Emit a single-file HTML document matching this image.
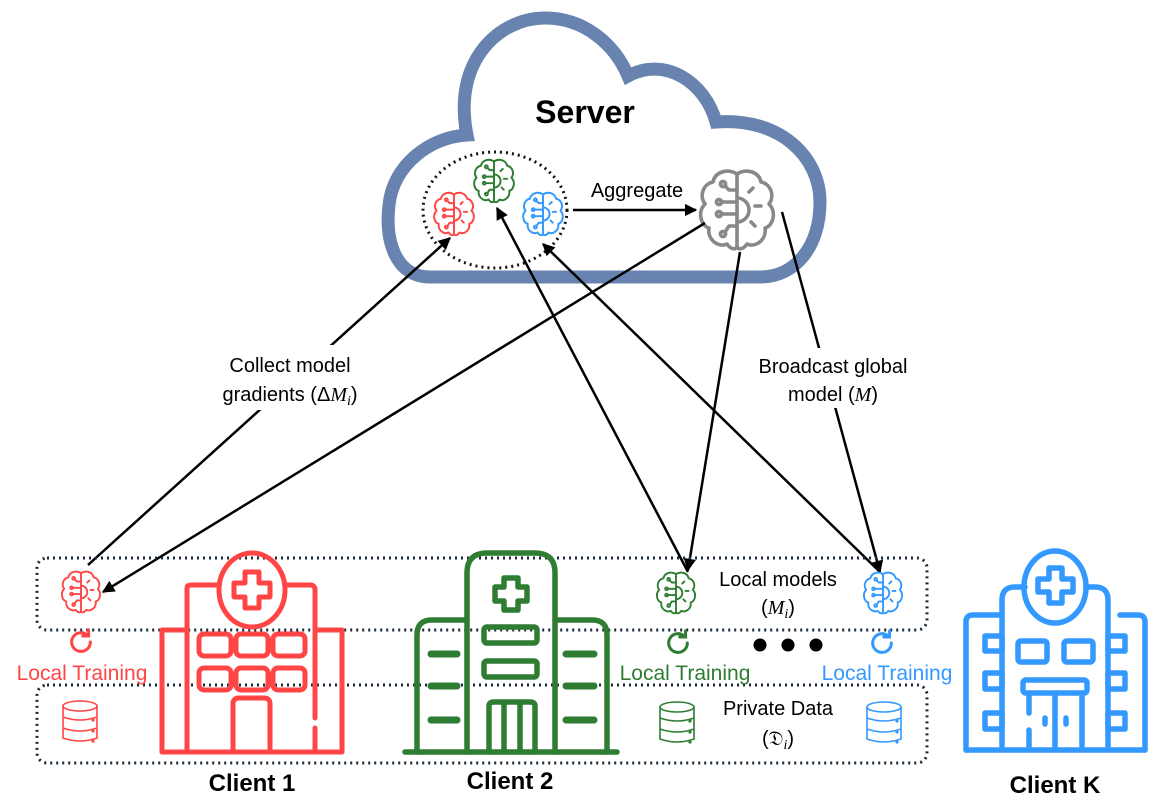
<!DOCTYPE html>
<html><head><meta charset="utf-8"><style>
html,body{margin:0;padding:0;background:#fff}
svg{display:block}
text{font-family:"Liberation Sans",sans-serif}
</style></head><body>
<svg width="1157" height="798" viewBox="0 0 1157 798" xmlns="http://www.w3.org/2000/svg">
<defs>
<symbol id="brain" viewBox="0 0 40 44">
<g fill="none" stroke="currentColor" stroke-width="1.8" stroke-linecap="round" stroke-linejoin="round">
<path d="M20 4 C15 1 9 3 8 8 C3 9 1 15 4 19 C0 23 2 30 6 31 C5 37 11 41 15 39 C17 42 20 42 20 40"/>
<path d="M20 4 C25 1 31 3 32 8 C37 9 39 15 36 19 C40 23 38 30 34 31 C35 37 29 41 25 39 C23 42 20 42 20 40"/>
<path d="M20 4 V40"/>
<path d="M20 12 H16 L14 10"/><circle cx="13" cy="9" r="1.3"/>
<path d="M20 18 H12"/><circle cx="11" cy="18" r="1.3"/>
<path d="M20 24 H12"/><circle cx="11" cy="24" r="1.3"/>
<path d="M20 30 H16 L14 33"/><circle cx="13" cy="34" r="1.3"/>
<path d="M20 16 A6 6 0 0 1 20 28"/>
<path d="M26 13 l2 -2 M29 20 h3 M27 28 l2 2"/>
</g>
</symbol>
<symbol id="db" viewBox="0 0 40 48">
<g fill="none" stroke="currentColor" stroke-width="1.6">
<ellipse cx="20" cy="8" rx="17" ry="5"/>
<path d="M3 8 V40 Q20 46 37 40 V8"/>
<path d="M3 19 Q20 25 37 19 M3 30 Q20 36 37 30"/>
<circle cx="33" cy="22" r="0.8" fill="currentColor"/><circle cx="33" cy="33" r="0.8" fill="currentColor"/><circle cx="33" cy="43" r="0.8" fill="currentColor"/>
</g>
</symbol>
<symbol id="refresh" viewBox="0 0 24 24">
<g fill="none" stroke="currentColor" stroke-width="2.6" stroke-linecap="round">
<path d="M20 12 A8 8 0 1 1 17 5.8"/>
<path d="M18.5 1.5 V6.8 H13.5"/>
</g>
</symbol>
<marker id="ah" viewBox="0 0 10 10" refX="9" refY="5" markerWidth="5" markerHeight="5" orient="auto-start-reverse">
<path d="M0 0 L10 5 L0 10 z" fill="#000"/>
</marker>
</defs>

<path d="M430 277 C395 277 385 240 389 205 C393 165 430 137 467 135 C452 60 500 18 545 18 C585 18 615 45 628 76 C665 56 705 82 716 122 C780 117 820 157 820 202 C820 247 795 277 760 277 Z" fill="#fff" stroke="#6983b0" stroke-width="13"/>
<text x="585" y="123" font-size="32" font-weight="bold" text-anchor="middle">Server</text>

<ellipse cx="495" cy="210" rx="72" ry="58" fill="none" stroke="#111" stroke-width="3" stroke-dasharray="2 4"/>
<use href="#brain" x="432" y="190" width="44" height="48" color="#ff4545"/>
<use href="#brain" x="472" y="157" width="44" height="48" color="#2e7d32"/>
<use href="#brain" x="521" y="190" width="44" height="48" color="#3399ff"/>
<use href="#brain" x="696" y="166" width="82" height="88" color="#888"/>

<text x="637" y="197" font-size="20" text-anchor="middle">Aggregate</text>
<line x1="573" y1="210" x2="696" y2="210" stroke="#000" stroke-width="2.5" marker-end="url(#ah)"/>

<g stroke="#000" stroke-width="2.5" fill="none">
<line x1="88" y1="565" x2="450" y2="238" marker-end="url(#ah)"/>
<line x1="705" y1="223" x2="103" y2="592" marker-end="url(#ah)"/>
<line x1="688" y1="572" x2="497" y2="208" marker-end="url(#ah)"/>
<line x1="880" y1="572" x2="543" y2="244" marker-end="url(#ah)"/>
<line x1="740" y1="252" x2="688" y2="570" marker-end="url(#ah)"/>
<line x1="782" y1="212" x2="880" y2="572" marker-end="url(#ah)"/>
</g>
<rect x="215" y="345" width="150" height="65" fill="#fff"/>
<text x="290" y="372" font-size="20" text-anchor="middle">Collect model</text>
<text x="290" y="401" font-size="20" text-anchor="middle">gradients (Δ<tspan font-family="Liberation Serif" font-style="italic">M</tspan><tspan font-family="Liberation Serif" font-style="italic" font-size="14" dy="4">i</tspan><tspan dy="-4">)</tspan></text>
<rect x="758" y="348" width="150" height="60" fill="#fff"/>
<text x="833" y="373" font-size="20" text-anchor="middle">Broadcast global</text>
<text x="833" y="401" font-size="20" text-anchor="middle">model (<tspan font-family="Liberation Serif" font-style="italic">M</tspan>)</text>

<rect x="37" y="558" width="890" height="72" rx="10" fill="none" stroke="#1a2a3a" stroke-width="3" stroke-dasharray="2 4"/>
<rect x="37" y="685" width="890" height="78" rx="10" fill="none" stroke="#1a2a3a" stroke-width="3" stroke-dasharray="2 4"/>

<g fill="none" stroke="#ff4545" stroke-width="5" stroke-linecap="round" stroke-linejoin="round">
<path d="M162 752 H342"/>
<path d="M162 752 V630 H187"/><path d="M342 752 V630 H315"/>
<path d="M187 752 V588 Q187 585 192 585 H218"/><path d="M286 585 H310 Q315 585 315 590 V718 M315 728 V752"/>
<ellipse cx="252" cy="590" rx="33" ry="37"/>
<path d="M245 572 h14 v11 h11 v14 h-11 v11 h-14 v-11 h-11 v-14 h11 z"/>
<rect x="199" y="634" width="32" height="22" rx="5"/><rect x="236" y="634" width="32" height="22" rx="5"/><rect x="273" y="634" width="32" height="22" rx="5"/>
<rect x="199" y="668" width="32" height="22" rx="5"/><rect x="236" y="668" width="32" height="22" rx="5"/><rect x="273" y="668" width="32" height="22" rx="5"/>
<path d="M233 752 V704 Q233 698 239 698 H264 Q270 698 270 704 V752"/>
</g>

<g fill="none" stroke="#2e7d32" stroke-width="5.5" stroke-linecap="round" stroke-linejoin="round">
<path d="M405 752 H617"/>
<path d="M417 752 V635 Q417 620 432 620 H467"/><path d="M607 752 V635 Q607 620 592 620 H555"/>
<path d="M467 752 V573 Q467 553 487 553 H535 Q555 553 555 573 V752"/>
<path d="M504 578 h14 v9 h9 v14 h-9 v9 h-14 v-9 h-9 v-14 h9 z"/>
<rect x="484" y="627" width="53" height="16" rx="3"/><rect x="484" y="661" width="53" height="16" rx="3"/>
<path d="M489 752 V706 Q489 702 494 702 H530 Q535 702 535 706 V752 M504 704 V752 M520 704 V752"/>
<path d="M431 654 H457 M431 686 H457 M431 720 H457 M566 654 H594 M566 686 H594 M566 720 H594" stroke-width="7"/>
</g>

<g fill="none" stroke="#3399ff" stroke-width="5.5" stroke-linecap="round" stroke-linejoin="round">
<path d="M966 750 H1145"/>
<path d="M966 750 V622 Q966 615 973 615 H1002"/><path d="M1145 750 V622 Q1145 615 1138 615 H1120"/>
<path d="M1002 750 V600 Q1002 587 1015 587 H1025"/><path d="M1087 587 H1095 Q1108 587 1108 600 V750"/>
<ellipse cx="1055" cy="587" rx="31" ry="36"/>
<path d="M1049 568 h13 v11 h11 v13 h-11 v11 h-13 v-11 h-11 v-13 h11 z"/>
<rect x="985" y="636" width="17" height="15"/><rect x="985" y="673" width="17" height="16"/><rect x="985" y="713" width="17" height="16"/>
<rect x="1108" y="636" width="17" height="15"/><rect x="1108" y="673" width="17" height="16"/><rect x="1108" y="713" width="17" height="16"/>
<rect x="1018" y="641" width="29" height="21" rx="3"/><rect x="1064" y="641" width="29" height="21" rx="3"/>
<rect x="1023" y="680" width="64" height="13" rx="3"/>
<path d="M1029 693 V713 M1029 730 V750 M1055 693 V750 M1082 693 V750"/>
<path d="M1045 718 V724 M1066 718 V724"/>
</g>

<use href="#brain" x="60" y="568" width="42" height="48" color="#ff4545"/>
<use href="#brain" x="655" y="569" width="42" height="48" color="#2e7d32"/>
<use href="#brain" x="862" y="569" width="42" height="48" color="#3399ff"/>
<use href="#refresh" x="67" y="628" width="28" height="28" color="#ff4545"/>
<use href="#refresh" x="664" y="629" width="28" height="28" color="#2e7d32"/>
<use href="#refresh" x="868" y="629" width="28" height="28" color="#3399ff"/>
<use href="#db" x="60" y="698" width="40" height="48" color="#ff4545"/>
<use href="#db" x="657" y="699" width="40" height="48" color="#2e7d32"/>
<use href="#db" x="864" y="699" width="40" height="48" color="#3399ff"/>

<text x="82" y="680" font-size="21" fill="#ff4545" text-anchor="middle">Local Training</text>
<text x="685" y="680" font-size="21" fill="#2e7d32" text-anchor="middle">Local Training</text>
<text x="887" y="680" font-size="21" fill="#3399ff" text-anchor="middle">Local Training</text>

<circle cx="760" cy="645" r="6.5"/><circle cx="788" cy="645" r="6.5"/><circle cx="816" cy="645" r="6.5"/>

<text x="778" y="586" font-size="20" text-anchor="middle">Local models</text>
<text x="778" y="614" font-size="20" text-anchor="middle">(<tspan font-family="Liberation Serif" font-style="italic">M</tspan><tspan font-family="Liberation Serif" font-style="italic" font-size="14" dy="4">i</tspan><tspan dy="-4">)</tspan></text>
<text x="778" y="715" font-size="20" text-anchor="middle">Private Data</text>
<text x="778" y="745" font-size="20" text-anchor="middle">(<tspan font-family="Liberation Serif">𝔇</tspan><tspan font-family="Liberation Serif" font-style="italic" font-size="14" dy="4">i</tspan><tspan dy="-4">)</tspan></text>

<text x="252" y="791" font-size="24" font-weight="bold" text-anchor="middle">Client 1</text>
<text x="510" y="789" font-size="24" font-weight="bold" text-anchor="middle">Client 2</text>
<text x="1055" y="793" font-size="24" font-weight="bold" text-anchor="middle">Client K</text>
</svg>
</body></html>
